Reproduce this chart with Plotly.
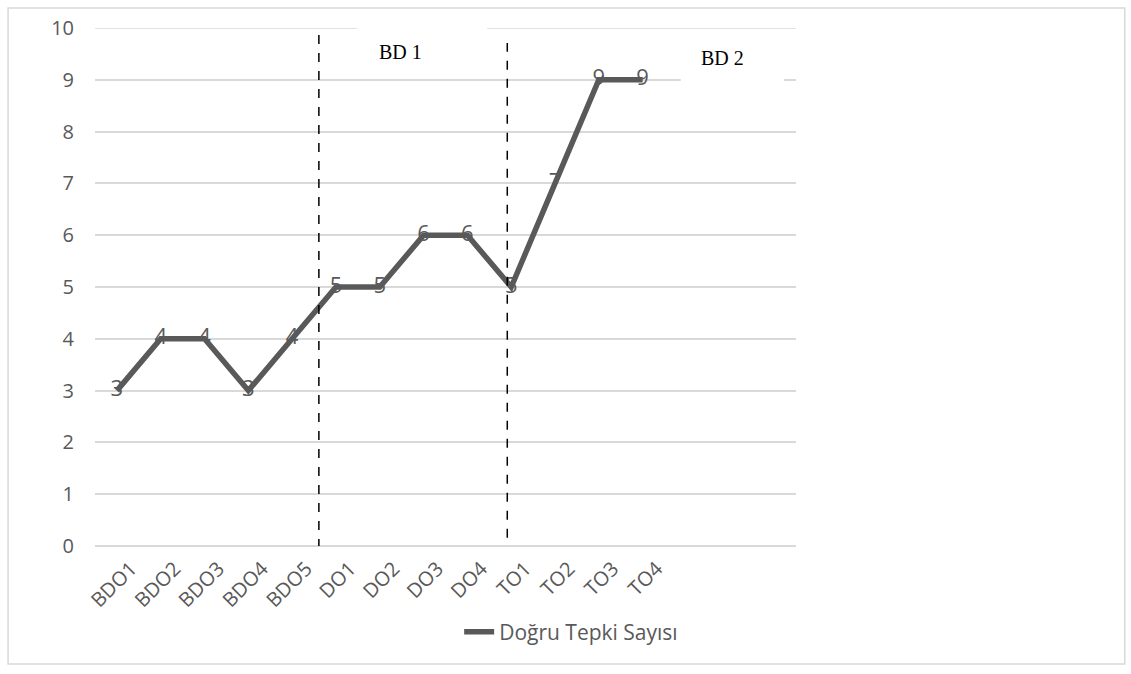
import plotly.graph_objects as go

categories = ["BDO1", "BDO2", "BDO3", "BDO4", "BDO5", "DO1", "DO2", "DO3", "DO4",
              "TO1", "TO2", "TO3", "TO4"]
values = [3, 4, 4, 3, 4, 5, 5, 6, 6, 5, 7, 9, 9]
series_name = "Doğru Tepki Sayısı"
phase_labels = ["BD 1", "BD 2"]

xpos = list(range(len(categories)))

fig = go.Figure()
fig.add_trace(go.Scatter(
    x=xpos, y=values, mode="lines+text", name=series_name,
    text=[str(v) for v in values], textposition="middle center",
    textfont=dict(family="Open Sans", size=22, color="#595959"),
    line=dict(color="#595959", width=5.5),
))

grid = "#d9d9d9"
fig.update_layout(
    width=1131, height=674,
    margin=dict(l=95, r=335, t=28, b=128, autoexpand=False),
    paper_bgcolor="white", plot_bgcolor="white",
    showlegend=True,
    legend=dict(orientation="h", xref="container", yref="container",
                x=0.505, xanchor="center", y=0.062, yanchor="middle",
                bgcolor="rgba(0,0,0,0)",
                font=dict(family="Open Sans", size=21, color="#595959")),
    xaxis=dict(range=[-0.5, 15.5], tickvals=xpos, ticktext=categories,
               tickangle=-45, showgrid=False, zeroline=False, automargin=False,
               showline=False, ticks="", ticklabelstandoff=6, ticklabelshift=14,
               tickfont=dict(family="Open Sans", size=20, color="#595959")),
    yaxis=dict(range=[0, 10], tickvals=list(range(11)), showgrid=True,
               gridcolor=grid, gridwidth=1.5, automargin=False,
               zeroline=True, zerolinecolor=grid, zerolinewidth=1.5,
               ticks="", ticklabelstandoff=20,
               tickfont=dict(family="Open Sans", size=20, color="#595959")),
)

shapes = [
    # top gridline (value 10)
    dict(type="line", xref="paper", yref="y", x0=0, x1=1, y0=10, y1=10,
         line=dict(color=grid, width=1.5), layer="below"),
    # white boxes behind phase labels
    dict(type="rect", xref="x", yref="y", x0=5.48, x1=8.45, y0=9.1, y1=10.3,
         fillcolor="white", line=dict(width=0), layer="above"),
    dict(type="rect", xref="x", yref="y", x0=12.87, x1=15.22, y0=8.97, y1=9.85,
         fillcolor="white", line=dict(width=0), layer="above"),
    # phase-change dashed lines
    dict(type="line", xref="x", yref="y", x0=4.61, x1=4.61, y0=-0.04, y1=9.9,
         line=dict(color="black", width=1.5, dash="dash"), layer="above"),
    dict(type="line", xref="x", yref="y", x0=8.91, x1=8.91, y0=-0.19, y1=9.71,
         line=dict(color="black", width=1.5, dash="dash"), layer="above"),
    # outer border
    dict(type="rect", xref="paper", yref="paper", x0=-0.124, x1=1.469,
         y0=-0.228, y1=1.0386, line=dict(color="#d9d9d9", width=1.5),
         fillcolor="rgba(0,0,0,0)", layer="below"),
]
fig.update_layout(shapes=shapes)

fig.add_annotation(x=6.47, y=9.54, xref="x", yref="y", text=phase_labels[0],
                   showarrow=False,
                   font=dict(family="Liberation Serif", size=20, color="black"))
fig.add_annotation(x=13.82, y=9.42, xref="x", yref="y", text=phase_labels[1],
                   showarrow=False,
                   font=dict(family="Liberation Serif", size=20, color="black"))

fig.write_html("out.html", config={"displayModeBar": False},
               post_script="document.body.style.margin='0';document.body.style.overflow='hidden';")
